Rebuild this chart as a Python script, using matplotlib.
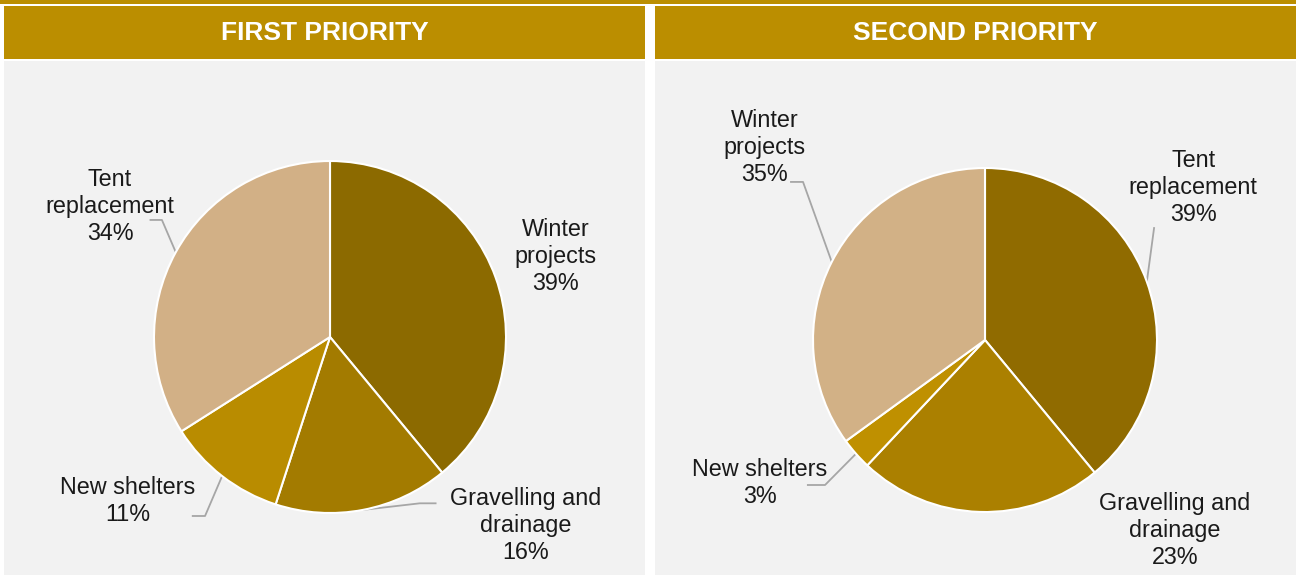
import numpy as np
import matplotlib.pyplot as plt
from matplotlib.patches import Rectangle

plt.rcParams['font.family'] = ['Liberation Sans', 'DejaVu Sans']

# data
first_labels = ['Winter\nprojects', 'Gravelling and\ndrainage', 'New shelters', 'Tent\nreplacement']
first_values = [39, 16, 11, 34]
first_colors = ['#8c6a00', '#a37b00', '#b98c00', '#d2b086']

second_labels = ['Tent\nreplacement', 'Gravelling and\ndrainage', 'New shelters', 'Winter\nprojects']
second_values = [39, 23, 3, 35]
second_colors = ['#906b00', '#ab8000', '#bf9000', '#d2b186']

# label layout (pie radius units): text centre, leader line points (None = no line)
first_text_pos = [(1.28, 0.455), (1.11, -1.07), (-1.15, -0.93), (-1.25, 0.74)]
first_leaders = [None, [(0.51, -0.945), (0.6, -0.945)], [(-0.71, -1.017), (-0.78, -1.017)],
                 [(-0.955, 0.665), (-1.02, 0.665)]]
second_text_pos = [(1.21, 0.884), (1.105, -1.105), (-1.31, -0.83), (-1.28, 1.12)]
second_leaders = [[(0.983, 0.651)], None, [(-0.93, -0.843), (-1.03, -0.843)],
                  [(-1.058, 0.919), (-1.128, 0.919)]]

W, H = 1296, 575
gold = '#bb8e00'
fig = plt.figure(figsize=(W / 100, H / 100), dpi=100)
fig.patch.set_facecolor('white')


def px_rect(x0, y0, x1, y1, color):
    fig.patches.append(Rectangle((x0 / W, 1 - y1 / H), (x1 - x0) / W, (y1 - y0) / H,
                                 transform=fig.transFigure, facecolor=color,
                                 edgecolor='none', zorder=0))


px_rect(0, 0, W, 4, gold)
panels = [(4, 645, 'FIRST PRIORITY'), (655, W, 'SECOND PRIORITY')]
for x0, x1, title in panels:
    px_rect(x0, 6, x1, 59, gold)
    px_rect(x0, 61, x1, H, '#f2f2f2')
    fig.text((x0 + x1) / 2 / W, 1 - 33 / H, title, color='white', fontsize=19,
             fontweight='bold', ha='center', va='center')


def draw_pie(cx, cy, r, values, labels, colors, text_pos, leaders):
    s = 320
    ax = fig.add_axes([(cx - s) / W, 1 - (cy + s) / H, 2 * s / W, 2 * s / H])
    ax.set_zorder(2)
    wedges, _ = ax.pie(values, colors=colors, startangle=90, counterclock=False,
                       radius=1, wedgeprops=dict(edgecolor='white', linewidth=1.5))
    ax.set_xlim(-s / r, s / r)
    ax.set_ylim(-s / r, s / r)
    ax.axis('off')
    for w, lab, v, tp, ld in zip(wedges, labels, values, text_pos, leaders):
        ax.text(tp[0], tp[1], f'{lab}\n{v}%', ha='center', va='center',
                fontsize=16.8, linespacing=1.22, color='#1a1a1a')
        if ld is not None:
            mid = np.deg2rad((w.theta1 + w.theta2) / 2)
            xs = [np.cos(mid)] + [p[0] for p in ld]
            ys = [np.sin(mid)] + [p[1] for p in ld]
            ax.plot(xs, ys, color='#a6a6a6', lw=1.3, zorder=0.5)


draw_pie(330, 337, 176, first_values, first_labels, first_colors, first_text_pos, first_leaders)
draw_pie(985, 340, 172, second_values, second_labels, second_colors, second_text_pos, second_leaders)

fig.savefig('out.png', dpi=100, facecolor='white')
